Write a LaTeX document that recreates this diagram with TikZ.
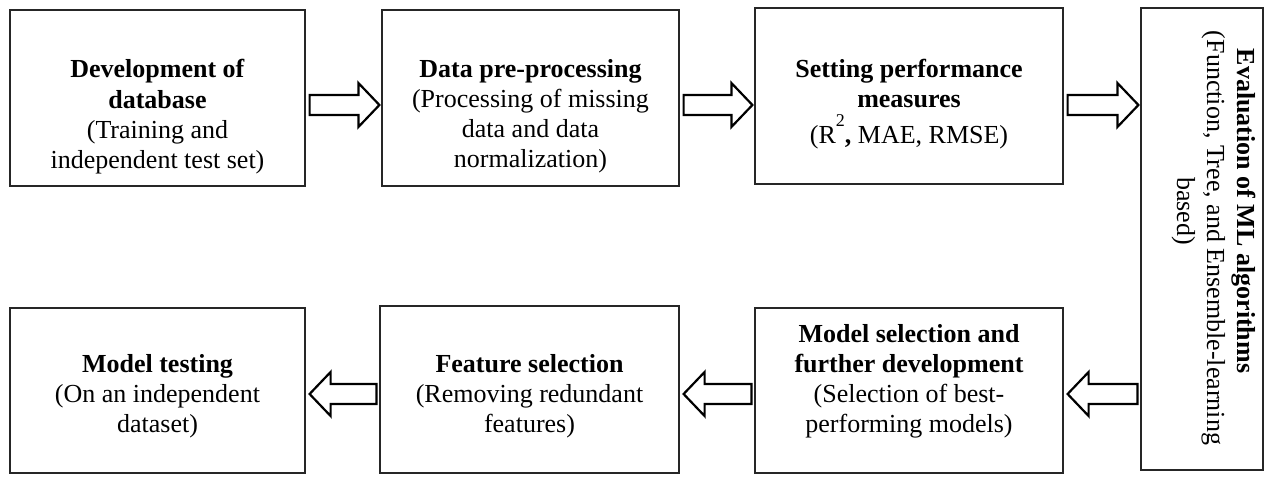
\documentclass[tikz,border=0pt]{standalone}
\usepackage{fontspec}
\setmainfont{Liberation Serif}
\usepackage{tikz}
\usetikzlibrary{calc,fit}
\tikzset{
  box/.style={draw=black!85, line width=0.6pt, inner sep=0pt},
  lbl/.style={align=center, inner sep=0pt, anchor=base, font=\fontsize{13}{15}\selectfont},
  fatarr/.style={draw=black, line width=1.1pt, line join=miter, fill=white},
}
% hollow block arrow from tail #1 to tip #2
\newcommand{\fatarrow}[2]{%
  \draw[fatarr] ($(#1)+(0,-10)$) -- ($(#2)!10.5pt!(#1)+(0,-10)$)
    -- ($(#2)!10.5pt!(#1)+(0,-22)$) -- (#2)
    -- ($(#2)!10.5pt!(#1)+(0,22)$) -- ($(#2)!10.5pt!(#1)+(0,10)$)
    -- ($(#1)+(0,10)$) -- cycle;}

\begin{document}
\begin{tikzpicture}[x=0.5pt,y=-0.5pt]
  \useasboundingbox (0,0) rectangle (1272,476);
  % top row
  \node[box, fit={(10,10) (305,186)}] (dev) {};
  \node[box, fit={(382,10) (679,186)}] (pre) {};
  \node[box, fit={(755,8) (1063,184)}] (perf) {};
  \node[box, fit={(1141,8) (1263,470)}] (eval) {};
  % bottom row
  \node[box, fit={(755,308) (1063,473)}] (msel) {};
  \node[box, fit={(380,306) (679,473)}] (fsel) {};
  \node[box, fit={(10,308) (305,473)}] (test) {};

  % texts, placed by the baseline of their last line
  \node[lbl] (devtxt) at (157.5,168) {\textbf{Development of}\\\textbf{database}\\(Training and\\independent test set)};
  \node[lbl] (pretxt) at (530.5,167) {\textbf{Data pre-processing}\\(Processing of missing\\data and data\\normalization)};
  \node[lbl] (perftxt) at (909,143) {\textbf{Setting performance}\\\textbf{measures}\\[3pt](R\raisebox{8.5pt}{\fontsize{9}{9}\selectfont 2}\textbf{,} MAE, RMSE)};
  \node[lbl, rotate=-90] (evaltxt) at (1177,238) {\textbf{Evaluation of ML algorithms}\hspace*{27pt}\\(Function, Tree, and Ensemble-learning\\based)\hspace*{27pt}};
  \node[lbl] (mseltxt) at (909,432) {\textbf{Model selection and}\\\textbf{further development}\\(Selection of best-\\performing models)};
  \node[lbl] (fseltxt) at (529.5,432) {\textbf{Feature selection}\\(Removing redundant\\features)};
  \node[lbl] (testtxt) at (157.5,432) {\textbf{Model testing}\\(On an independent\\dataset)};

  % block arrows
  \foreach \a/\b in {dev/pre,pre/perf,perf/eval}{
    \coordinate (tail) at ($(\a.east |- 0,105)+(4,0)$);
    \coordinate (tip) at ($(\b.west |- 0,105)+(-2,0)$);
    \fatarrow{tail}{tip}
  }
  \foreach \a/\b in {eval/msel,msel/fsel,fsel/test}{
    \coordinate (tail) at ($(\a.west |- 0,394)+(-3,0)$);
    \coordinate (tip) at ($(\b.east |- 0,394)+(4,0)$);
    \fatarrow{tail}{tip}
  }
\end{tikzpicture}
\end{document}
